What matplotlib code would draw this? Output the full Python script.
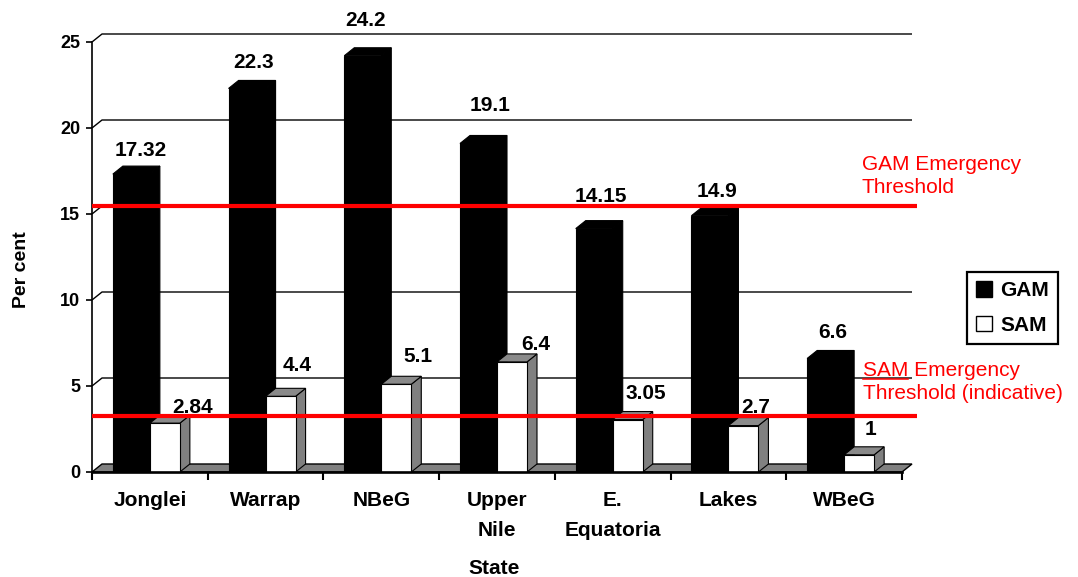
import numpy as np
import matplotlib
matplotlib.use("Agg")
import matplotlib.pyplot as plt
from matplotlib.patches import Polygon, Patch
from matplotlib.lines import Line2D

plt.rcParams['font.family'] = ['Liberation Sans', 'DejaVu Sans']

# ---- data ----
states = ["Jonglei", "Warrap", "NBeG", "Upper\nNile", "E.\nEquatoria", "Lakes", "WBeG"]
gam = [17.32, 22.3, 24.2, 19.1, 14.15, 14.9, 6.6]
sam = [2.84, 4.4, 5.1, 6.4, 3.05, 2.7, 1]
gam_threshold = 15
sam_threshold = 2.8
y_ticks = [0, 5, 10, 15, 20, 25]

# label nudges in pixels (dx right, dy down) relative to the top of each column
gam_nudge = [(4, -16), (1, -18), (-2, -27), (7, -30), (2, -24), (2, -16), (2, -18)]
sam_nudge = [(23, -8), (12, -23), (17, -20), (19, -9), (13, -18), (7, -10), (6, -17)]

W, H = 1078, 577
fig = plt.figure(figsize=(W / 100, H / 100), dpi=100)
ax = fig.add_axes([92 / W, (H - 472) / H, 810 / W, 430 / H])
n = len(states)
ax.set_xlim(0, n)
ax.set_ylim(0, 25)

PX = 810 / n          # pixels per category
PY = 430 / 25         # pixels per percent
DX = 10 / PX          # depth offset (x) in data units
DY = 8 / PY           # depth offset (y) in data units
WB = 37 / PX          # GAM column width
WS = 30 / PX          # SAM column width
centers = np.arange(n) + 0.5

# back wall gridlines with the short diagonal from the axis
for v in y_ticks[1:]:
    ax.plot([0, DX, n + DX], [v, v + DY, v + DY], color='black', lw=1.0,
            clip_on=False, zorder=1, solid_capstyle='butt')

# floor
ax.add_patch(Polygon([(0, 0), (n, 0), (n + DX, DY), (DX, DY)], closed=True,
                     facecolor='#808080', edgecolor='black', lw=1.0, zorder=2,
                     clip_on=False))


def add_depth(bars, top_color, side_color, z, edge):
    for b in bars:
        x0 = b.get_x()
        x1 = x0 + b.get_width()
        h = b.get_height()
        top = [(x0, h), (x1, h), (x1 + DX, h + DY), (x0 + DX, h + DY)]
        side = [(x1, 0), (x1 + DX, DY), (x1 + DX, h + DY), (x1, h)]
        ax.add_patch(Polygon(side, closed=True, facecolor=side_color,
                             edgecolor=edge, lw=0.8, zorder=z, clip_on=False))
        ax.add_patch(Polygon(top, closed=True, facecolor=top_color,
                             edgecolor=edge, lw=0.8, zorder=z, clip_on=False))


gam_bars = ax.bar(centers - WB, gam, width=WB, align='edge', color='black',
                  edgecolor='black', lw=0.8, zorder=3.5, clip_on=False)
add_depth(gam_bars, 'black', 'black', 3, 'black')

sam_bars = ax.bar(centers, sam, width=WS, align='edge', color='white',
                  edgecolor='black', lw=0.8, zorder=4.5, clip_on=False)
add_depth(sam_bars, '#8a8a8a', '#808080', 4, 'black')

# value labels
for b, v, (dx, dy) in zip(gam_bars, gam, gam_nudge):
    xc = b.get_x() + (b.get_width() + DX) / 2
    ax.annotate(f"{v:g}", xy=(xc, v + DY), xytext=(dx, -dy),
                textcoords='offset pixels', ha='center', va='center',
                fontsize=15, fontweight='bold', zorder=8, annotation_clip=False)
for b, v, (dx, dy) in zip(sam_bars, sam, sam_nudge):
    xc = b.get_x() + (b.get_width() + DX) / 2
    ax.annotate(f"{v:g}", xy=(xc, v + DY), xytext=(dx, -dy),
                textcoords='offset pixels', ha='center', va='center',
                fontsize=15, fontweight='bold', zorder=8, annotation_clip=False)

# threshold lines
x_end = (917 - 92) / PX
for t in (gam_threshold, sam_threshold):
    ax.plot([0, x_end], [t + DY, t + DY], color='#ff0000', lw=3.0,
            clip_on=False, zorder=7, solid_capstyle='butt')

# axes
for s in ('top', 'right'):
    ax.spines[s].set_visible(False)
ax.spines['left'].set_linewidth(1.2)
ax.spines['bottom'].set_linewidth(1.9)
ax.spines['left'].set_zorder(6)
ax.spines['bottom'].set_zorder(6)

ax.set_yticks(y_ticks)
ax.set_yticklabels([str(v) for v in y_ticks], fontsize=13, fontweight='bold')
ax.tick_params(axis='y', direction='out', length=4.5, width=1.2, pad=4)

ax.set_xticks(np.arange(n + 1))
ax.set_xticklabels([])
ax.tick_params(axis='x', which='major', direction='out', length=6, width=1.5)
ax.set_xticks(centers, minor=True)
ax.set_xticklabels(states, minor=True, fontsize=15, fontweight='bold',
                   linespacing=1.7)
ax.tick_params(axis='x', which='minor', length=0, pad=14)

ax.set_ylabel("Per cent", fontsize=14, fontweight='bold')
ax.yaxis.label.set(ha='center', va='center')
ax.yaxis.set_label_coords(-70 / 810, (472 - 270) / 430)
ax.set_xlabel("State", fontsize=15, fontweight='bold')
ax.xaxis.label.set(ha='center', va='center')
ax.xaxis.set_label_coords(0.5 + (494 - 497) / 810, (472 - 568) / 430)

# threshold annotations
fig.text(862 / W, 1 - 155 / H, "GAM Emergency\nThreshold", color='#ff0000',
         fontsize=15, ha='left', va='top', linespacing=1.27)
sam_x, sam_y = 863 / W, 1 - 361 / H
fig.text(sam_x, sam_y, "SAM Emergency\nThreshold (indicative)", color='#ff0000',
         fontsize=15, ha='left', va='top', linespacing=1.27)
renderer = fig.canvas.get_renderer()
probe = fig.text(sam_x, sam_y, "SAM", fontsize=15)
sam_w = probe.get_window_extent(renderer).width
probe.remove()
fig.add_artist(Line2D([sam_x, sam_x + sam_w / W], [1 - 379 / H, 1 - 379 / H],
                      transform=fig.transFigure, color='#ff0000', lw=1.1))

# legend
handles = [Patch(facecolor='black', edgecolor='black', label='GAM'),
           Patch(facecolor='white', edgecolor='black', label='SAM')]
leg = ax.legend(handles=handles, loc='upper left',
                bbox_to_anchor=(967 / W, 1 - 272 / H), bbox_transform=fig.transFigure,
                borderaxespad=0, borderpad=0.45, handlelength=0.75, handleheight=0.75,
                handletextpad=0.4, labelspacing=0.75, fancybox=False, framealpha=1,
                edgecolor='black', prop={'weight': 'bold', 'size': 15})
leg.get_frame().set_linewidth(1.6)
leg.set_zorder(10)

fig.savefig("out.png", dpi=100)
